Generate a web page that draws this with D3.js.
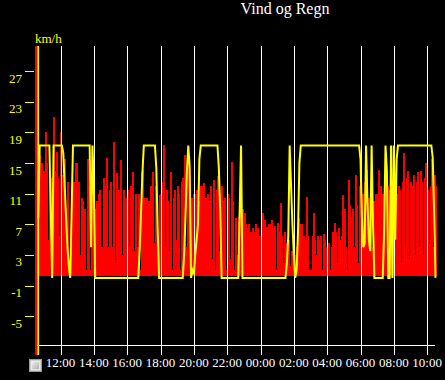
<!DOCTYPE html>
<html><head><meta charset="utf-8">
<script src="https://cdn.jsdelivr.net/npm/d3@7"></script>
<style>html,body{margin:0;padding:0;background:#000;overflow:hidden}</style>
</head><body>
<svg id="c" width="445" height="380"></svg>
<script>
const title = "Vind og Regn";
const unitLabel = "km/h";
const yTickValues = [27, 23, 19, 15, 11, 7, 3, -1, -5];
const xTickLabels = ["12:00","14:00","16:00","18:00","20:00","22:00","00:00","02:00","04:00","06:00","08:00","10:00"];
const startHour = 10, startMinute = 30, stepMinutes = 5;

// wind (km/h), one value per 5 minutes from 10:30
const wind = [
  10,14,15.5,16,15,5,14,19,15,5,14,13,
  4,21,14,16.5,13,5.5,19,13.5,3,15.5,4,12.5,
  1.5,1,11,12.5,11,15,2,12.5,3,10.5,10,9,
  1,15.5,12,1,12,10,9,2.5,10,11,11.5,4,
  3.5,13,12,15.7,4,11.5,12.5,4,17.8,2,13.7,11,
  11.5,15.4,3,11.5,1.5,10.5,11.5,4,12,10,13.9,3.5,
  11,4,11,1,13.8,14.1,10.5,5,10.5,10,1.5,12,
  13.8,4.5,12,11,2,10.8,11,12.5,17.4,4,11.5,10,
  3.5,13.8,1,10.5,11.5,5,12,11,1,12.5,13,16,
  4,15.5,12,10,10.5,1.5,11,3,11.5,10,3.5,12,
  12,12.4,10.5,4,11,10,12,2.5,12.8,1,11.5,13.3,
  3.5,11,12,10,10.5,1,11,10.5,2.5,15.2,10,1,
  7.8,3,8,11.5,1,9,8.5,7,6.5,7,4,6,
  6.5,6,7,1,6.5,5.5,4.5,8.5,4,7.5,6.7,2,
  7,2.5,7.5,6.5,6.8,1,7.2,6,9.8,5.5,2,6,
  4.5,2.5,5,1.5,3.5,2,3,1.5,4,7.8,2,7,
  1.5,5.5,5,10.6,5.5,1,1,5.5,8.5,5,3,5.5,
  5,5.5,1,5.8,5,4,2.5,4.5,1,4,6,7.2,
  6,2,6.5,5,5.5,10.8,9,4,1,12.8,9.5,8,
  9,4,13.4,9.5,2,12,10,11,4,12.5,14.1,3,
  10.5,9.5,4,10,2,11,10.5,14.1,12,4,11,13,
  15,12,11.5,4,12.5,11,3.5,10.5,11,12,11.5,2,
  12.5,16.3,4,13,14,2.5,12.5,12,13.5,3,12.5,13.8,
  4,14,12.5,3,13,15,11.5,4.5,12,15.5,4,13.5,
  12
];

// yellow series, one value per 5 minutes from 10:30
const rain = [
  8,8,8,17.3,17.3,17.3,17.3,17.3,17.3,17.3,17.3,8.7,0,
  17.3,17.3,17.3,17.3,17.3,17.3,17.3,16.3,12,8,4,1.5,0,8.7,
  17.3,17.3,17.3,17.3,17.3,17.3,17.3,17.3,17.3,17.3,17.3,17.3,17.3,
  4,17.3,12,0,
  0,0,0,0,0,0,0,0,0,0,
  0,0,0,0,0,0,0,0,0,0,
  0,0,0,0,0,0,0,0,0,0,
  0,
  3.7,8.7,13.8,
  17.3,17.3,17.3,17.3,17.3,17.3,17.3,17.3,17.3,
  14.3,6.2,
  0,0,0,0,0,0,0,0,0,0,
  0,0,0,0,0,0,0,0,
  3,8,14,17.3,14.5,0,1,0.5,3,5,7,15.5,
  17.3,17.3,17.3,17.3,17.3,17.3,17.3,17.3,17.3,17.3,17.3,17.3,17.3,
  14.4,8.7,
  0,0,0,0,0,0,0,0,0,0,0,0,0,
  8.7,17.3,
  0,0,0,0,0,0,0,0,0,0,
  0,0,0,0,0,0,0,0,0,0,
  0,0,0,0,0,0,0,0,0,0,
  0,0,
  2,5.5,17.3,12,7,3,0,1,6,15,
  17.3,17.3,17.3,17.3,17.3,17.3,17.3,17.3,17.3,17.3,
  17.3,17.3,17.3,17.3,17.3,17.3,17.3,17.3,17.3,17.3,
  17.3,17.3,17.3,17.3,17.3,17.3,17.3,17.3,17.3,17.3,
  17.3,17.3,17.3,17.3,17.3,17.3,17.3,17.3,17.3,17.3,
  17.3,17.3,17.3,
  15.5,8,4,4.5,17.3,10,5,3.5,17.3,7,
  0,0,0,0,0,0,0,
  6,17.3,14,0,0,17.3,0,17.3,5,15.5,
  17.3,17.3,17.3,17.3,17.3,17.3,17.3,17.3,17.3,17.3,
  17.3,17.3,17.3,17.3,17.3,17.3,17.3,17.3,17.3,17.3,
  17.3,17.3,17.3,17.3,17.3,
  15.7,8.7,0
];

const FONT = "'Liberation Serif','Times New Roman',serif";
const t0 = new Date(2024, 0, 1, startHour, startMinute);
const t1 = d3.timeHour.offset(t0, 24);
const times = wind.map((d, i) => d3.timeMinute.offset(t0, i * stepMinutes));
const rainTimes = rain.map((d, i) => d3.timeMinute.offset(t0, i * stepMinutes));
const xTicks = xTickLabels.map(s => {
  const [h, m] = s.split(":").map(Number);
  const day = (h * 60 + m) < (startHour * 60 + startMinute) ? 2 : 1;
  return new Date(2024, 0, day, h, m);
});

const svg = d3.select("#c");
svg.append("rect").attr("width", 445).attr("height", 380).attr("fill", "#000");

const x = d3.scaleTime().domain([t0, t1]).range([35.5, 435.5]);
const y = d3.scaleLinear().domain([-8.9, 30.3]).range([346, 46]);
const base = 0.25;
const bw = x(times[1]) - x(times[0]);

// wind bars
svg.append("g").selectAll("rect").data(wind).join("rect")
  .attr("x", (d, i) => x(times[i]) - 0.35)
  .attr("width", bw + 0.7)
  .attr("y", d => y(d))
  .attr("height", d => Math.max(0, y(base) - y(d)))
  .attr("fill", "#ff0000")
  .attr("shape-rendering", "crispEdges");

// vertical grid lines
svg.append("g").selectAll("line").data(xTicks).join("line")
  .attr("x1", d => Math.round(x(d)) + 0.5).attr("x2", d => Math.round(x(d)) + 0.5)
  .attr("y1", 46).attr("y2", 355)
  .attr("stroke", "#fff").attr("stroke-width", 1);

// bottom axis line
svg.append("line").attr("x1", 35).attr("x2", 435).attr("y1", 345.5).attr("y2", 345.5)
  .attr("stroke", "#fff").attr("stroke-width", 1);

// yellow line
const line = d3.line().x((d, i) => x(rainTimes[i])).y(d => y(d));
svg.append("path").datum(rain).attr("d", line)
  .attr("fill", "none").attr("stroke", "#ffff00").attr("stroke-width", 2);

// axis bars
svg.append("rect").attr("x", 35).attr("y", 46).attr("width", 2.3).attr("height", 309)
  .attr("fill", "#ff0000").attr("shape-rendering", "crispEdges");
svg.append("rect").attr("x", 37.3).attr("y", 46).attr("width", 1.8).attr("height", 309)
  .attr("fill", "#ffff00");

// y ticks + labels
const yt = svg.append("g");
yt.selectAll("line").data(yTickValues).join("line")
  .attr("x1", 25).attr("x2", 34)
  .attr("y1", d => Math.round(y(d)) + 0.5).attr("y2", d => Math.round(y(d)) + 0.5)
  .attr("stroke", "#ffff00").attr("stroke-width", 1);
yt.selectAll("text").data(yTickValues).join("text")
  .attr("x", 22).attr("y", d => y(d) + 11.5)
  .attr("text-anchor", "end")
  .attr("font-family", FONT).attr("font-size", 13)
  .attr("fill", "#ffff00")
  .text(d => d);

svg.append("text").attr("x", 35).attr("y", 43)
  .attr("font-family", FONT).attr("font-size", 13).attr("fill", "#ffff00")
  .text(unitLabel);

// x labels
svg.append("g").selectAll("text").data(xTicks).join("text")
  .attr("x", d => x(d)).attr("y", 367)
  .attr("text-anchor", "middle")
  .attr("font-family", FONT).attr("font-size", 13).attr("fill", "#fff")
  .text((d, i) => xTickLabels[i]);

// title
svg.append("text").attr("x", 285).attr("y", 13.5)
  .attr("text-anchor", "middle")
  .attr("font-family", FONT).attr("font-size", 16).attr("fill", "#fff")
  .text(title);

// small checkbox icon
const defs = svg.append("defs");
const g = defs.append("linearGradient").attr("id", "cb").attr("x1", 0).attr("y1", 0).attr("x2", 1).attr("y2", 1);
g.append("stop").attr("offset", "0%").attr("stop-color", "#f4f4f4");
g.append("stop").attr("offset", "100%").attr("stop-color", "#a8a8a8");
svg.append("rect").attr("x", 29.5).attr("y", 359.5).attr("width", 12).attr("height", 12)
  .attr("fill", "#d0d0d0").attr("stroke", "#9a9a9a");
svg.append("rect").attr("x", 31.5).attr("y", 361.5).attr("width", 8).attr("height", 8)
  .attr("fill", "url(#cb)").attr("stroke", "#e8e8e8");
</script>
</body></html>
